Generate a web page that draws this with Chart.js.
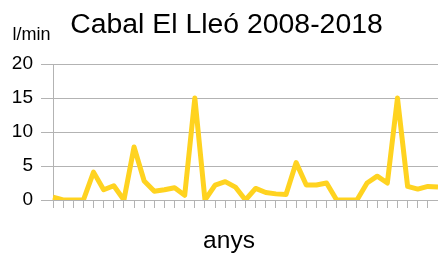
<!DOCTYPE html>
<html>
<head>
<meta charset="utf-8">
<script src="https://cdn.jsdelivr.net/npm/chart.js@4/dist/chart.umd.min.js"></script>
<style>
  html, body { margin: 0; padding: 0; background: #fff; overflow: hidden; }
  #wrap { width: 438px; height: 253px; }
</style>
</head>
<body>
<div id="wrap"><canvas id="flowChart" width="438" height="253"></canvas></div>
<script>
const periods = ["1","2","3","4","5","6","7","8","9","10","11","12","13","14","15","16","17","18","19","20",
                 "21","22","23","24","25","26","27","28","29","30","31","32","33","34","35","36","37","38","39"]
const flow = [0.4, 0, 0, 0, 4.1, 1.5, 2.1, 0, 7.8, 2.8, 1.3, 1.5, 1.8, 0.7, 15, 0, 2.2, 2.7, 1.9, 0,
              1.7, 1.1, 0.9, 0.8, 5.5, 2.2, 2.2, 2.5, 0, 0, 0, 2.5, 3.5, 2.5, 15, 2.0, 1.6, 2.0, 1.9]
const yTicks = [0, 5, 10, 15, 20]

const titleText = "Cabal El Lleó 2008-2018"
const unitText = "l/min"
const xTitleText = "anys"

const yellow = "#ffd320"
const grey = "#b3b3b3"
const fontName = "'Liberation Sans', Arial, sans-serif"

// title, unit and axis name sit off-centre in the original, so draw them by hand
const chartTexts = {
  id: 'chartTexts',
  afterDraw(chart) {
    const ctx = chart.ctx
    ctx.save()
    ctx.fillStyle = "#000"
    ctx.textBaseline = "alphabetic"
    ctx.textAlign = "center"
    ctx.font = "28.4px " + fontName
    ctx.fillText(titleText, 226.5, 33)
    ctx.font = "24.5px " + fontName
    ctx.fillText(xTitleText, 229, 248)
    ctx.textAlign = "left"
    ctx.font = "18px " + fontName
    ctx.fillText(unitText, 12.5, 40)
    ctx.restore()
  }
}

new Chart(document.getElementById("flowChart").getContext("2d"), {
  type: 'line',
  data: {
    labels: periods,
    datasets: [{
      label: unitText,
      data: flow,
      borderColor: yellow,
      backgroundColor: yellow,
      borderWidth: 5,
      borderJoinStyle: 'round',
      borderCapStyle: 'butt',
      pointRadius: 0,
      tension: 0,
      fill: false
    }]
  },
  options: {
    responsive: false,
    animation: false,
    layout: { padding: { top: 64, left: 0, right: 0, bottom: 0 } },
    plugins: {
      legend: { display: false },
      tooltip: { enabled: false },
      title: { display: false }
    },
    scales: {
      x: {
        offset: false,
        grid: { drawOnChartArea: false, color: grey, tickLength: 8, lineWidth: 1 },
        border: { color: grey, width: 1 },
        ticks: { display: false, autoSkip: false },
        afterFit(scale) { scale.height = 53 }
      },
      y: {
        min: 0,
        max: 20,
        afterBuildTicks(scale) { scale.ticks = yTicks.map(v => ({ value: v })) },
        grid: { color: grey, tickLength: 12, lineWidth: 1 },
        border: { color: grey, width: 1 },
        ticks: {
          color: "#000",
          padding: 8,
          font: { family: fontName, size: 19 }
        },
        afterFit(scale) { scale.width = 53 }
      }
    }
  },
  plugins: [chartTexts]
})
</script>
</body>
</html>
